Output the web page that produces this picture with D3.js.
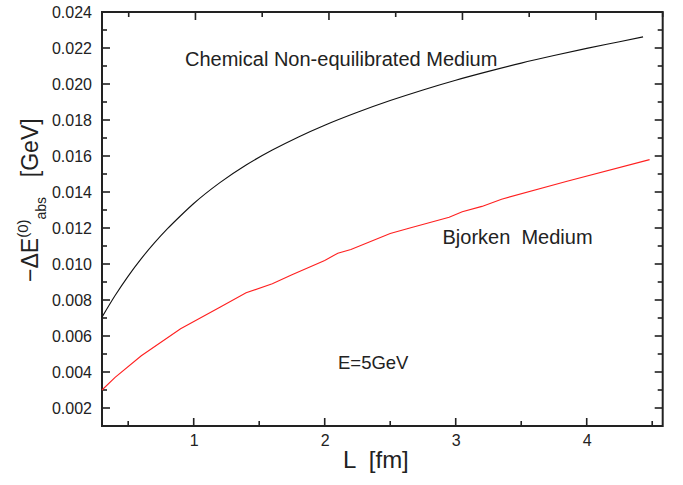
<!DOCTYPE html>
<html>
<head>
<meta charset="utf-8">
<script src="https://cdn.jsdelivr.net/npm/d3@7"></script>
<style>
  body { margin: 0; background: #fff; }
  svg text { font-family: Arial, "Liberation Sans", sans-serif; fill: #222; }
</style>
</head>
<body>
<div id="chart"></div>
<script>
// energy loss vs path length
const chemL = [0.3, 0.4, 0.5, 0.6, 0.7, 0.8, 0.9, 1.0, 1.2, 1.4, 1.6, 1.8, 2.0, 2.25, 2.5, 2.75, 3.0, 3.25, 3.5, 3.75, 4.0, 4.25, 4.43];
const chemE = [0.00705, 0.00825, 0.00933, 0.01030, 0.01117, 0.01196, 0.01268, 0.01336, 0.01452, 0.01550, 0.01633, 0.01706, 0.01771, 0.01843, 0.01908, 0.01967, 0.02021, 0.02070, 0.02116, 0.02158, 0.02198, 0.02235, 0.02262];
const bjL = [0.3, 0.4, 0.6, 0.9, 1.2, 1.4, 1.6, 1.75, 2.0, 2.1, 2.2, 2.5, 2.65, 2.95, 3.05, 3.2, 3.35, 3.85, 4.48];
const bjE = [0.0030, 0.0037, 0.0049, 0.0064, 0.0076, 0.0084, 0.0089, 0.0094, 0.0102, 0.0106, 0.0108, 0.0117, 0.0120, 0.0126, 0.0129, 0.0132, 0.0136, 0.0146, 0.0158];

const xMajor = [1, 2, 3, 4];
const xMinor = [0.5, 1.5, 2.5, 3.5, 4.5];
const yMajor = [0.002, 0.004, 0.006, 0.008, 0.010, 0.012, 0.014, 0.016, 0.018, 0.020, 0.022, 0.024];
const yMinor = [0.001, 0.003, 0.005, 0.007, 0.009, 0.011, 0.013, 0.015, 0.017, 0.019, 0.021, 0.023];

const width = 683, height = 485;
const plotLeft = 102, plotRight = 662.7, plotTop = 12, plotBottom = 426;

const svg = d3.select("#chart").append("svg")
  .attr("width", width)
  .attr("height", height);

const x = d3.scaleLinear().domain([0.3, 4.58]).range([plotLeft, plotRight]);
const xTop = d3.scaleLinear().domain([0.3, 4.5]).range([plotLeft, plotRight]); // top axis is scaled a bit differently
const y = d3.scaleLinear().domain([0.001, 0.024]).range([plotBottom, plotTop]);

const axisColor = "#222";

// tick labels from d3 axes
svg.append("g").attr("transform", `translate(0,${plotBottom})`)
  .call(d3.axisBottom(x).tickValues(xMajor).tickFormat(d3.format("d")).tickSize(0).tickPadding(9))
  .call(g => g.select(".domain").remove())
  .call(g => g.selectAll("text").style("font-size", "16px").attr("fill", "#222"));

svg.append("g").attr("transform", `translate(${plotLeft},0)`)
  .call(d3.axisLeft(y).tickValues(yMajor).tickFormat(d3.format(".3f")).tickSize(0).tickPadding(10))
  .call(g => g.select(".domain").remove())
  .call(g => g.selectAll("text").style("font-size", "16px").attr("fill", "#222"));

// inward ticks on all four sides, as thin rects
const tickRects = [];
xMajor.forEach(v => {
  tickRects.push({ x: x(v) - 0.8, y: plotBottom - 8, w: 1.6, h: 8 });
  tickRects.push({ x: xTop(v) - 0.8, y: plotTop, w: 1.6, h: 8 });
});
xMinor.forEach(v => {
  if (x(v) <= plotRight) tickRects.push({ x: x(v) - 0.8, y: plotBottom - 5, w: 1.6, h: 5 });
  tickRects.push({ x: xTop(v) - 0.8, y: plotTop, w: 1.6, h: 5 });
});
yMajor.forEach(v => {
  tickRects.push({ x: plotLeft, y: y(v) - 0.8, w: 8, h: 1.6 });
  tickRects.push({ x: plotRight - 8, y: y(v) - 0.8, w: 8, h: 1.6 });
});
yMinor.forEach(v => {
  tickRects.push({ x: plotLeft, y: y(v) - 0.8, w: 5, h: 1.6 });
  tickRects.push({ x: plotRight - 5, y: y(v) - 0.8, w: 5, h: 1.6 });
});

svg.append("g").selectAll("rect")
  .data(tickRects)
  .join("rect")
  .attr("x", d => d.x).attr("y", d => d.y)
  .attr("width", d => d.w).attr("height", d => d.h)
  .attr("fill", axisColor);

// frame
svg.append("rect")
  .attr("x", plotLeft).attr("y", plotTop)
  .attr("width", plotRight - plotLeft).attr("height", plotBottom - plotTop)
  .attr("fill", "none")
  .attr("stroke", axisColor)
  .attr("stroke-width", 2);

// curves
const chem = chemL.map((l, i) => ({ l, e: chemE[i] }));
const bj = bjL.map((l, i) => ({ l, e: bjE[i] }));

svg.append("path")
  .datum(chem)
  .attr("fill", "none")
  .attr("stroke", "#111")
  .attr("stroke-width", 1.1)
  .attr("d", d3.line().x(d => x(d.l)).y(d => y(d.e)).curve(d3.curveMonotoneX));

svg.append("path")
  .datum(bj)
  .attr("fill", "none")
  .attr("stroke", "#ff2020")
  .attr("stroke-width", 1.1)
  .attr("d", d3.line().x(d => x(d.l)).y(d => y(d.e)));

// annotations
svg.append("text").attr("x", 185).attr("y", 66)
  .style("font-size", "20px").text("Chemical Non-equilibrated Medium");
svg.append("text").attr("x", 442.5).attr("y", 244)
  .style("font-size", "20px").attr("xml:space", "preserve").text("Bjorken  Medium");
svg.append("text").attr("x", 338).attr("y", 369)
  .style("font-size", "18.5px").text("E=5GeV");

// axis titles
svg.append("text")
  .attr("x", 343).attr("y", 468)
  .style("font-size", "24px")
  .attr("xml:space", "preserve")
  .text("L  [fm]");

const yTitle = svg.append("text")
  .attr("transform", "translate(38,282) rotate(-90)")
  .style("font-size", "23px")
  .attr("xml:space", "preserve");
yTitle.append("tspan").text("\u2212\u0394E");
yTitle.append("tspan").attr("dy", -10).style("font-size", "15px").text("(0)");
yTitle.append("tspan").attr("dy", 18).style("font-size", "14px").text("abs");
yTitle.append("tspan").attr("dy", -8).attr("dx", 7).text("  [GeV]");
</script>
</body>
</html>
